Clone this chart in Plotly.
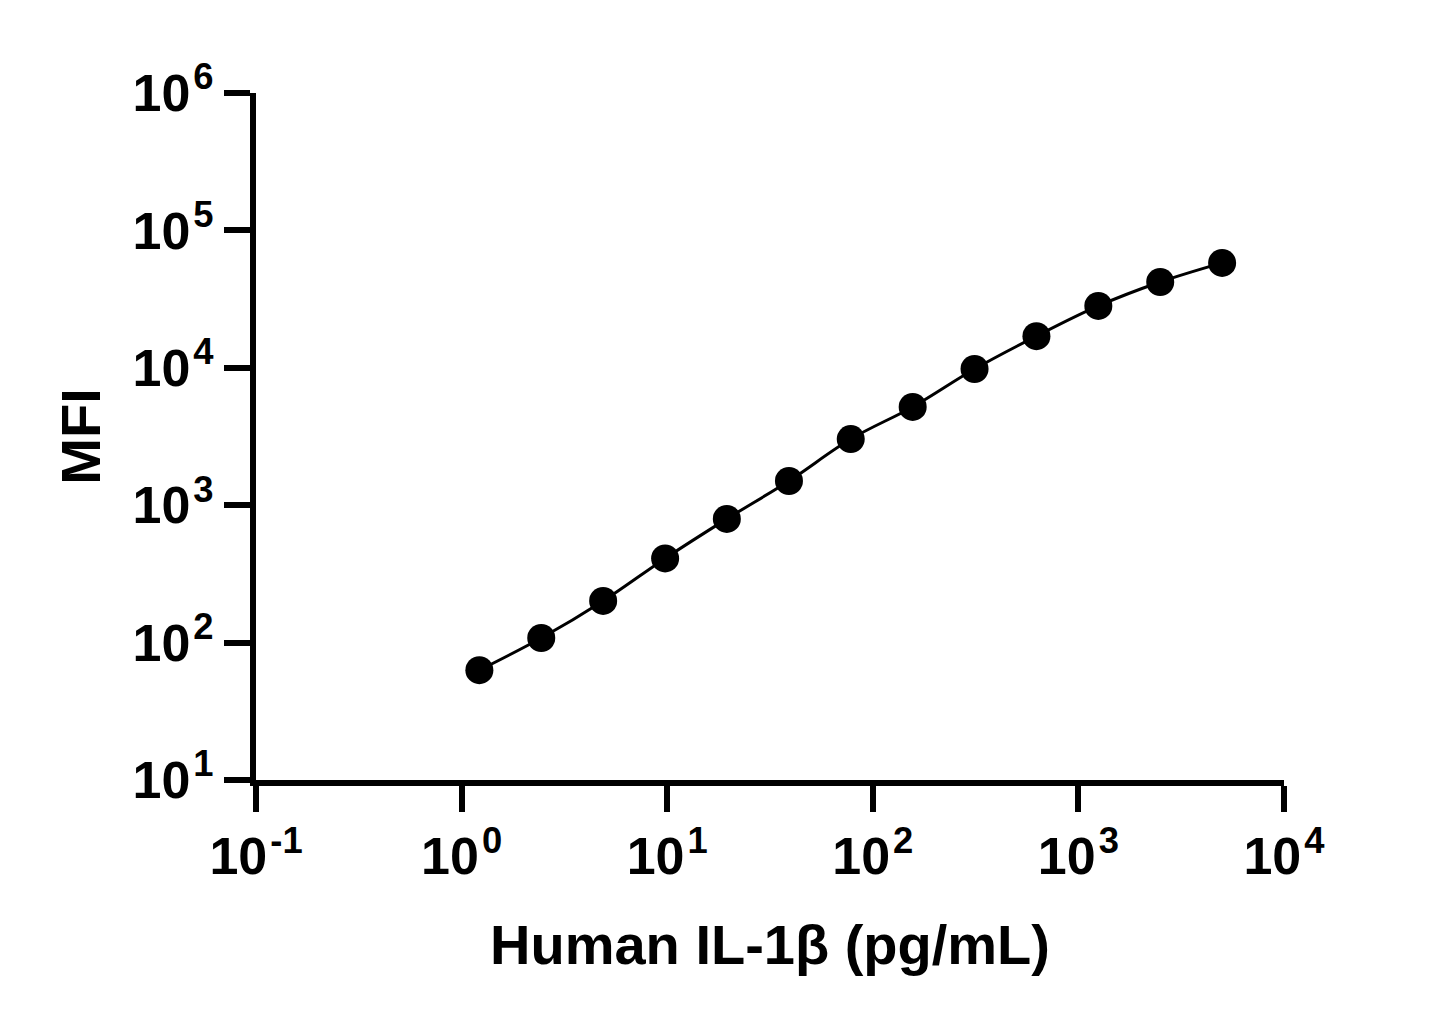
import plotly.graph_objects as go

# Data (2-fold serial dilution standard curve)
concentration = [1.22, 2.44, 4.88, 9.77, 19.5, 39.1, 78.1, 156.3, 312.5, 625, 1250, 2500, 5000]
mfi = [63, 108, 201, 410, 795, 1500, 3030, 5190, 9800, 17000, 28200, 42100, 58000]

x_tickvals = [0.1, 1, 10, 100, 1000, 10000]
x_exponents = ["-1", "0", "1", "2", "3", "4"]
y_tickvals = [10, 100, 1000, 10000, 100000, 1000000]
y_exponents = ["1", "2", "3", "4", "5", "6"]

x_ticktext = ["10<sup>\u200a" + e + "</sup>" for e in x_exponents]
y_ticktext = ["10<sup>\u200a" + e + "</sup>" for e in y_exponents]

FONT = "Liberation Sans, Arial, sans-serif"

fig = go.Figure()
fig.add_trace(go.Scatter(
    x=concentration, y=mfi,
    mode="lines+markers",
    line=dict(color="black", width=3, shape="spline", smoothing=1),
    marker=dict(color="black", size=28),
    showlegend=False,
))

axis_common = dict(
    type="log",
    showline=True, linecolor="black", linewidth=6,
    ticks="outside", ticklen=26, tickwidth=6, tickcolor="black",
    showgrid=False, zeroline=False,
    tickfont=dict(family=FONT, size=52, color="black", weight="bold"),
)

fig.update_layout(
    width=1445, height=1027,
    paper_bgcolor="white", plot_bgcolor="white",
    margin=dict(l=248, r=169, t=85, b=255),
    xaxis=dict(
        range=[-1, 4],
        tickvals=x_tickvals, ticktext=x_ticktext,
        title=dict(text="Human IL-1β (pg/mL)", standoff=42,
                   font=dict(family=FONT, size=56, color="black", weight="bold")),
        **axis_common,
    ),
    yaxis=dict(
        range=[1, 6],
        tickvals=y_tickvals, ticktext=y_ticktext,
        title=dict(text="MFI", standoff=16,
                   font=dict(family=FONT, size=56, color="black", weight="bold")),
        **axis_common,
    ),
)

fig.write_html("out.html")
